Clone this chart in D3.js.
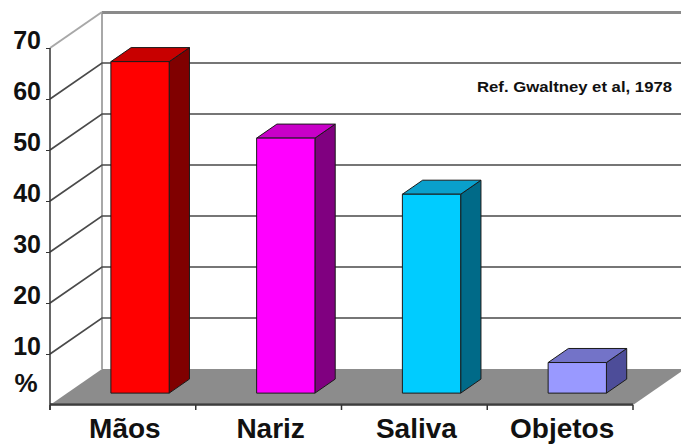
<!DOCTYPE html>
<html>
<head>
<meta charset="utf-8">
<script src="https://cdn.jsdelivr.net/npm/d3@7"></script>
<style>
    body { margin: 0; background: #fff; }
    svg { display: block; font-family: Arial, "Liberation Sans", sans-serif; }
</style>
</head>
<body>
<svg id="chart"></svg>
<script>
const categories = ["Mãos", "Nariz", "Saliva", "Objetos"];
const values = [65, 50, 39, 6];
const yTickValues = [10, 20, 30, 40, 50, 60, 70];
const frontColors = ["#ff0000", "#ff00ff", "#00ccff", "#9999ff"];
const topColors = ["#c80000", "#c800c8", "#0aa0cc", "#7373c8"];
const sideColors = ["#800000", "#800080", "#006a88", "#4d4d99"];
const unitLabel = "%";
const refText = "Ref. Gwaltney et al, 1978";

class Bar3DChart {
    margin = { top: 48, right: 48, bottom: 39, left: 50 }
    wall = { dx: 52, dy: -36 }   // offset from front plane to back wall
    barDepth = [0.33, 0.72]      // bars sit between these fractions of depth

    constructor(svg, width = 681, height = 444) {
        this.svg = svg;
        this.width = width;
        this.height = height;
    }

    initialize() {
        this.svg = d3.select(this.svg)
            .attr("width", this.width)
            .attr("height", this.height);

        this.floor = this.svg.append("g");
        this.grid = this.svg.append("g");
        this.bars = this.svg.append("g");
        this.yAxis = this.svg.append("g");
        this.xAxis = this.svg.append("g");
        this.labels = this.svg.append("g");

        const plotW = this.width - this.margin.left - this.margin.right;
        this.xScale = d3.scaleBand()
            .domain(categories)
            .range([this.margin.left, this.margin.left + plotW])
            .paddingInner(0.6)
            .paddingOuter(0.3);

        this.yScale = d3.scaleLinear()
            .domain([0, 70])
            .range([this.height - this.margin.bottom, this.margin.top]);
    }

    // front-plane x, value and depth fraction -> screen point
    p(x, v, d) {
        return [x + d * this.wall.dx, this.yScale(v) + d * this.wall.dy];
    }

    update() {
        const x0 = this.margin.left;
        const x1 = this.xScale.range()[1];
        const step = this.xScale.step();
        const pts = a => a.map(q => q.join(",")).join(" ");

        // floor
        this.floor.append("polygon")
            .attr("points", pts([this.p(x0, 0, 0), this.p(x1, 0, 0), this.p(x1, 0, 1), this.p(x0, 0, 1)]))
            .attr("fill", "#8c8c8c");
        this.floor.append("line")
            .attr("x1", x0).attr("x2", x1)
            .attr("y1", this.yScale(0) - 1).attr("y2", this.yScale(0) - 1)
            .attr("stroke", "#5c5c5c").attr("stroke-width", 2);

        // back wall edges (left and top)
        const wallBottom = this.p(x0, 0, 1);
        const wallTop = this.p(x0, 70, 1);
        this.grid.append("line")
            .attr("x1", wallTop[0]).attr("y1", wallBottom[1])
            .attr("x2", wallTop[0]).attr("y2", wallTop[1])
            .attr("stroke", "#a8a8a8").attr("stroke-width", 2);
        this.grid.append("rect")
            .attr("x", wallTop[0]).attr("y", wallTop[1] - 1)
            .attr("width", this.width - wallTop[0]).attr("height", 3)
            .attr("fill", "#8a8a8a");

        // gridlines: side wall diagonal then back wall horizontal
        this.grid.selectAll(".gridline")
            .data(yTickValues.filter(v => v < 70))
            .join("polyline")
            .attr("class", "gridline")
            .attr("points", v => pts([this.p(x0, v, 0), this.p(x0, v, 1), [this.width, this.p(x0, v, 1)[1]]]))
            .attr("fill", "none")
            .attr("stroke", "#4a4a4a")
            .attr("stroke-width", 1.7);
        this.grid.append("line")
            .attr("x1", x0).attr("y1", this.yScale(70))
            .attr("x2", wallTop[0]).attr("y2", wallTop[1])
            .attr("stroke", "#a8a8a8").attr("stroke-width", 2);

        // bars
        const [d0, d1] = this.barDepth;
        const bw = this.xScale.bandwidth();
        const g = this.bars.selectAll("g")
            .data(categories.map((c, i) => ({ c, v: values[i], i })))
            .join("g")
            .attr("stroke", "#1a1a1a")
            .attr("stroke-width", 1)
            .attr("stroke-linejoin", "round");

        g.append("polygon")
            .attr("points", d => {
                const a = this.xScale(d.c), b = a + bw;
                return pts([this.p(b, d.v, d0), this.p(b, 0, d0), this.p(b, 0, d1), this.p(b, d.v, d1)]);
            })
            .attr("fill", d => sideColors[d.i]);

        g.append("polygon")
            .attr("points", d => {
                const a = this.xScale(d.c), b = a + bw;
                return pts([this.p(a, d.v, d0), this.p(b, d.v, d0), this.p(b, d.v, d1), this.p(a, d.v, d1)]);
            })
            .attr("fill", d => topColors[d.i]);

        g.append("polygon")
            .attr("points", d => {
                const a = this.xScale(d.c), b = a + bw;
                return pts([this.p(a, d.v, d0), this.p(b, d.v, d0), this.p(b, 0, d0), this.p(a, 0, d0)]);
            })
            .attr("fill", d => frontColors[d.i]);

        // y axis
        this.yAxis
            .attr("transform", `translate(${x0},0)`)
            .call(d3.axisLeft(this.yScale).tickValues(yTickValues).tickSize(4).tickSizeOuter(0).tickPadding(5).tickFormat(d3.format("d")));
        this.yAxis.select(".domain")
            .attr("d", `M0,${this.yScale(70)}V${this.yScale(0) + 5}`)
            .attr("stroke", "#333").attr("stroke-width", 1.5);
        this.yAxis.selectAll(".tick line").attr("stroke", "#333");
        this.yAxis.selectAll(".tick text")
            .attr("dy", "0.02em")
            .style("font-size", "25px")
            .style("font-weight", "bold")
            .attr("fill", "#111");

        // x axis
        this.xAxis.append("line")
            .attr("x1", x0).attr("x2", x1)
            .attr("y1", this.yScale(0)).attr("y2", this.yScale(0))
            .attr("stroke", "#333").attr("stroke-width", 1.5);
        this.xAxis.selectAll(".xtick")
            .data(d3.range(categories.length + 1))
            .join("line")
            .attr("class", "xtick")
            .attr("x1", k => x0 + k * step).attr("x2", k => x0 + k * step)
            .attr("y1", this.yScale(0)).attr("y2", this.yScale(0) + 5)
            .attr("stroke", "#333").attr("stroke-width", 1.5);
        this.xAxis.selectAll("text")
            .data(categories)
            .join("text")
            .attr("x", c => this.xScale(c) + bw / 2 + 2)
            .attr("y", this.yScale(0) + 33)
            .attr("text-anchor", "middle")
            .style("font-size", "28px")
            .style("font-weight", "bold")
            .attr("fill", "#111")
            .text(c => c);

        // unit and reference
        this.labels.append("text")
            .attr("x", 26).attr("y", this.yScale(0) - 13)
            .attr("text-anchor", "middle")
            .style("font-size", "26px").style("font-weight", "bold")
            .attr("fill", "#111")
            .text(unitLabel);

        this.labels.append("text")
            .attr("x", 672).attr("y", 92)
            .attr("text-anchor", "end")
            .attr("textLength", 195)
            .attr("lengthAdjust", "spacingAndGlyphs")
            .style("font-size", "14px").style("font-weight", "bold")
            .attr("fill", "#111")
            .text(refText);
    }
}

const chart = new Bar3DChart("#chart");
chart.initialize();
chart.update();
</script>
</body>
</html>
